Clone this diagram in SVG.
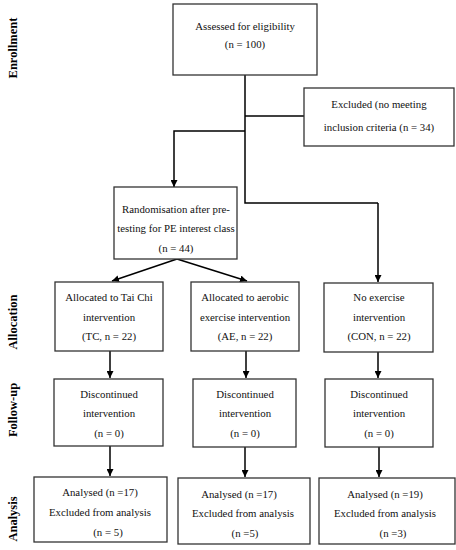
<svg xmlns="http://www.w3.org/2000/svg" width="456" height="550" viewBox="0 0 456 550">
<defs>
<marker id="ah" viewBox="0 0 10 10" refX="10" refY="5" markerWidth="7" markerHeight="7" markerUnits="userSpaceOnUse" orient="auto">
<path d="M0,0 L10,5 L0,10 Z" fill="#000"/>
</marker>
<style>
.box{fill:#fff;stroke:#333;stroke-width:1.3}
.t{font-family:"Liberation Serif","Times New Roman",serif;font-size:10.8px;fill:#111;text-anchor:middle}
.side{font-family:"Liberation Serif","Times New Roman",serif;font-size:12.5px;font-weight:bold;fill:#000;text-anchor:middle}
.c{fill:none;stroke:#000;stroke-width:1.5}
.ca{fill:none;stroke:#000;stroke-width:1.5;marker-end:url(#ah)}
</style>
</defs>
<rect width="456" height="550" fill="#fff"/>
<g id="side-labels">
<text class="side" transform="translate(17,48) rotate(-90)">Enrollment</text>
<text class="side" transform="translate(17,322) rotate(-90)">Allocation</text>
<text class="side" transform="translate(17,410) rotate(-90)">Follow-up</text>
<text class="side" transform="translate(17,519) rotate(-90)">Analysis</text>
</g>
<g id="connectors">
<polyline class="c" points="245,75 245,203 378,203"/>
<polyline class="ca" points="378,203 378,282"/>
<line class="c" x1="245" y1="116" x2="304" y2="116"/>
<polyline class="ca" points="245,131 174,131 174,187"/>
<line class="ca" x1="177" y1="259" x2="112" y2="281"/>
<line class="ca" x1="177" y1="259" x2="247" y2="281"/>
<line class="ca" x1="110" y1="351" x2="110" y2="378"/>
<line class="ca" x1="246" y1="351" x2="246" y2="378"/>
<line class="ca" x1="378" y1="352" x2="378" y2="378"/>
<line class="ca" x1="110" y1="446" x2="110" y2="476"/>
<line class="ca" x1="245" y1="447" x2="245" y2="477"/>
<line class="ca" x1="379" y1="447" x2="379" y2="477"/>
</g>
<g id="assessed">
<rect class="box" x="173" y="4" width="144" height="71"/>
<text class="t" x="245" y="30">Assessed for eligibility</text>
<text class="t" x="245" y="48">(n = 100)</text>
</g>
<g id="excluded">
<rect class="box" x="304" y="88" width="150" height="58"/>
<text class="t" x="379" y="108">Excluded (no meeting</text>
<text class="t" x="379" y="131">inclusion criteria (n = 34)</text>
</g>
<g id="randomisation">
<rect class="box" x="114" y="187" width="123" height="72"/>
<text class="t" x="176" y="213">Randomisation after pre-</text>
<text class="t" x="176" y="232">testing for PE interest class</text>
<text class="t" x="176" y="252">(n = 44)</text>
</g>
<g id="alloc-tc">
<rect class="box" x="55" y="282" width="108" height="69"/>
<text class="t" x="109" y="301">Allocated to Tai Chi</text>
<text class="t" x="109" y="321">intervention</text>
<text class="t" x="109" y="340">(TC, n = 22)</text>
</g>
<g id="alloc-ae">
<rect class="box" x="191" y="282" width="108" height="69"/>
<text class="t" x="245" y="301">Allocated to aerobic</text>
<text class="t" x="245" y="321">exercise intervention</text>
<text class="t" x="245" y="340">(AE, n = 22)</text>
</g>
<g id="alloc-con">
<rect class="box" x="324" y="283" width="109" height="69"/>
<text class="t" x="379" y="301">No exercise</text>
<text class="t" x="379" y="321">intervention</text>
<text class="t" x="379" y="340">(CON, n = 22)</text>
</g>
<g id="follow-tc">
<rect class="box" x="54" y="379" width="109" height="67"/>
<text class="t" x="109" y="398">Discontinued</text>
<text class="t" x="109" y="417">intervention</text>
<text class="t" x="109" y="437">(n = 0)</text>
</g>
<g id="follow-ae">
<rect class="box" x="193" y="379" width="103" height="68"/>
<text class="t" x="245" y="398">Discontinued</text>
<text class="t" x="245" y="417">intervention</text>
<text class="t" x="245" y="437">(n = 0)</text>
</g>
<g id="follow-con">
<rect class="box" x="325" y="379" width="108" height="68"/>
<text class="t" x="379" y="398">Discontinued</text>
<text class="t" x="379" y="417">intervention</text>
<text class="t" x="379" y="437">(n = 0)</text>
</g>
<g id="analysis-tc">
<rect class="box" x="34" y="477" width="133" height="65"/>
<text class="t" x="100" y="496">Analysed (n =17)</text>
<text class="t" x="100" y="516">Excluded from analysis</text>
<text class="t" x="108" y="536">(n = 5)</text>
</g>
<g id="analysis-ae">
<rect class="box" x="178" y="478" width="132" height="66"/>
<text class="t" x="239" y="498">Analysed (n =17)</text>
<text class="t" x="243" y="517">Excluded from analysis</text>
<text class="t" x="245" y="537">(n =5)</text>
</g>
<g id="analysis-con">
<rect class="box" x="319" y="478" width="136" height="66"/>
<text class="t" x="385" y="498">Analysed (n =19)</text>
<text class="t" x="385" y="517">Excluded from analysis</text>
<text class="t" x="393" y="537">(n =3)</text>
</g>
</svg>
